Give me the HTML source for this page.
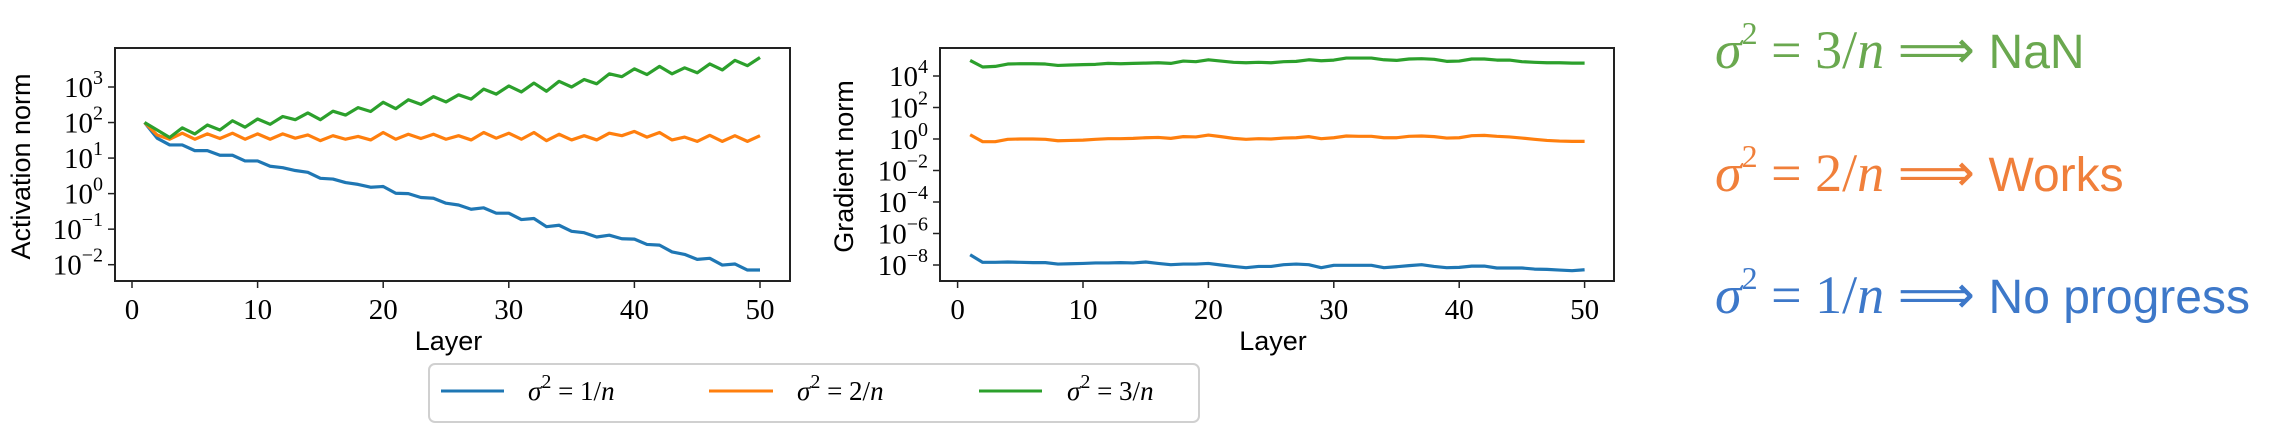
<!DOCTYPE html>
<html><head><meta charset="utf-8"><style>
html,body{margin:0;padding:0;background:#fff;}
svg{display:block;}
.tick{font-family:"Liberation Serif",serif;font-size:29px;fill:#000;}
.sup{font-size:20px;}
.ttl{font-family:"Liberation Sans",sans-serif;font-size:27px;fill:#000;}
.leg{font-family:"Liberation Serif",serif;font-size:27px;fill:#000;}
.big{font-family:"Liberation Serif",serif;font-size:54px;}
.word{font-family:"Liberation Sans",sans-serif;font-size:48px;}
</style></head><body>
<svg id="fig" width="2292" height="434" viewBox="0 0 2292 434" xmlns="http://www.w3.org/2000/svg">
  <g id="left"></g>
  <g id="right"></g>
  <g>
    <rect x="429" y="364" width="770" height="58" rx="6" fill="#fff" stroke="#d0d0d0" stroke-width="2"/>
    <line x1="441" y1="391" x2="504" y2="391" stroke="#1f77b4" stroke-width="3"/>
    <text class="leg" x="528" y="400"><tspan font-style="italic">σ</tspan><tspan class="sup" dy="-12">2</tspan><tspan dy="12"> = 1/</tspan><tspan font-style="italic">n</tspan></text>
    <line x1="709" y1="391" x2="773" y2="391" stroke="#ff7f0e" stroke-width="3"/>
    <text class="leg" x="797" y="400"><tspan font-style="italic">σ</tspan><tspan class="sup" dy="-12">2</tspan><tspan dy="12"> = 2/</tspan><tspan font-style="italic">n</tspan></text>
    <line x1="979" y1="391" x2="1042" y2="391" stroke="#2ca02c" stroke-width="3"/>
    <text class="leg" x="1067" y="400"><tspan font-style="italic">σ</tspan><tspan class="sup" dy="-12">2</tspan><tspan dy="12"> = 3/</tspan><tspan font-style="italic">n</tspan></text>
  </g>
  <g>
    <text x="1715" y="68" fill="#6aa84f"><tspan class="big" font-style="italic">σ</tspan><tspan class="big" style="font-size:32px" dy="-24">2</tspan><tspan class="big" dy="24"> = 3/</tspan><tspan class="big" font-style="italic">n</tspan><tspan class="big"> ⟹ </tspan><tspan class="word">NaN</tspan></text>
    <text x="1715" y="191" fill="#f07f3a"><tspan class="big" font-style="italic">σ</tspan><tspan class="big" style="font-size:32px" dy="-24">2</tspan><tspan class="big" dy="24"> = 2/</tspan><tspan class="big" font-style="italic">n</tspan><tspan class="big"> ⟹ </tspan><tspan class="word">Works</tspan></text>
    <text x="1715" y="313" fill="#3d78c9"><tspan class="big" font-style="italic">σ</tspan><tspan class="big" style="font-size:32px" dy="-24">2</tspan><tspan class="big" dy="24"> = 1/</tspan><tspan class="big" font-style="italic">n</tspan><tspan class="big"> ⟹ </tspan><tspan class="word">No progress</tspan></text>
  </g>
</svg>
<script>
// log10 values per layer (1..50)
const layers = Array.from({length:50},(_, i)=>i+1);
const actBlueLog = [2.0,1.56,1.37,1.37,1.21,1.21,1.08,1.08,0.92,0.92,0.77,0.73,0.65,0.60,0.43,0.41,0.31,0.26,0.18,0.20,0.01,0.0,-0.11,-0.13,-0.27,-0.32,-0.44,-0.40,-0.55,-0.55,-0.73,-0.70,-0.93,-0.89,-1.06,-1.10,-1.22,-1.17,-1.27,-1.28,-1.43,-1.45,-1.64,-1.71,-1.85,-1.82,-2.01,-1.98,-2.15,-2.15];
const actOrangeLog = [2.0,1.65,1.53,1.70,1.53,1.68,1.55,1.70,1.53,1.68,1.53,1.68,1.56,1.65,1.49,1.63,1.53,1.61,1.51,1.72,1.53,1.67,1.55,1.67,1.53,1.63,1.51,1.72,1.56,1.70,1.53,1.72,1.49,1.67,1.51,1.63,1.51,1.70,1.63,1.75,1.59,1.72,1.51,1.59,1.47,1.64,1.47,1.63,1.47,1.63];
const actGreenLog = [2.0,1.79,1.58,1.85,1.68,1.93,1.79,2.05,1.87,2.10,1.95,2.17,2.08,2.27,2.08,2.32,2.21,2.42,2.31,2.57,2.39,2.64,2.51,2.73,2.58,2.78,2.66,2.94,2.80,3.03,2.86,3.11,2.88,3.16,3.00,3.21,3.09,3.37,3.29,3.51,3.35,3.58,3.37,3.54,3.40,3.65,3.48,3.75,3.60,3.83];
const gradBlueLog = [-7.35,-7.83,-7.83,-7.81,-7.83,-7.85,-7.85,-7.94,-7.92,-7.90,-7.87,-7.87,-7.85,-7.87,-7.81,-7.90,-7.98,-7.94,-7.94,-7.90,-8.00,-8.09,-8.17,-8.09,-8.09,-7.98,-7.94,-7.98,-8.17,-8.02,-8.02,-8.02,-8.02,-8.17,-8.11,-8.04,-7.98,-8.09,-8.17,-8.15,-8.07,-8.07,-8.19,-8.19,-8.19,-8.26,-8.28,-8.32,-8.36,-8.30];
const gradOrangeLog = [0.27,-0.17,-0.17,-0.02,0.0,0.0,-0.02,-0.11,-0.09,-0.07,-0.02,0.02,0.02,0.04,0.08,0.10,0.04,0.15,0.13,0.25,0.15,0.04,-0.02,0.02,0.0,0.06,0.08,0.15,0.02,0.08,0.19,0.17,0.17,0.08,0.08,0.17,0.19,0.15,0.06,0.08,0.21,0.23,0.17,0.13,0.06,-0.02,-0.09,-0.13,-0.15,-0.15];
const gradGreenLog = [4.99,4.57,4.61,4.76,4.78,4.78,4.76,4.67,4.70,4.72,4.74,4.80,4.78,4.80,4.82,4.84,4.80,4.95,4.91,5.03,4.95,4.87,4.84,4.87,4.84,4.91,4.93,5.03,4.97,5.01,5.14,5.14,5.14,5.03,4.99,5.08,5.10,5.06,4.93,4.95,5.08,5.08,5.01,5.01,4.91,4.87,4.84,4.84,4.82,4.82];
const xTicks = [0,10,20,30,40,50];
const actYTicks = [-2,-1,0,1,2,3];
const actYTickLabels = ["−2","−1","0","1","2","3"];
const gradYTicks = [-8,-6,-4,-2,0,2,4];
const gradYTickLabels = ["−8","−6","−4","−2","0","2","4"];
const colors = ["#1f77b4","#ff7f0e","#2ca02c"];
const NS = "http://www.w3.org/2000/svg";
function mk(tag, attrs, parent){
  const e = document.createElementNS(NS, tag);
  for (const k in attrs) e.setAttribute(k, attrs[k]);
  parent.appendChild(e);
  return e;
}
function drawChart(g, cfg){
  const xs = v => cfg.x0 + (v - 0) * (cfg.x50 - cfg.x0) / 50;
  const ys = lg => cfg.yA + (lg - cfg.lA) * (cfg.yB - cfg.yA) / (cfg.lB - cfg.lA);
  cfg.series.forEach((s, si) => {
    const d = s.map((v, i) => (i ? "L" : "M") + xs(layers[i]).toFixed(2) + " " + ys(v).toFixed(2)).join(" ");
    const p = mk("path", {d: d, fill: "none", stroke: colors[si], "stroke-width": 3.2, "stroke-linejoin": "round"}, g);
    
    
  });
  const fr = mk("rect", {x: cfg.left, y: cfg.top, width: cfg.right - cfg.left, height: cfg.bottom - cfg.top, fill: "none", stroke: "#222", "stroke-width": 2}, g);
  
  
  xTicks.forEach(t => {
    const x = xs(t);
    const tl = mk("line", {x1: x, y1: cfg.bottom, x2: x, y2: cfg.bottom + 7, stroke: "#222", "stroke-width": 1.5}, g);
    
    
    const tx = mk("text", {x: x, y: cfg.bottom + 38, "text-anchor": "middle", class: "tick"}, g);
    tx.textContent = String(t);
    
    
  });
  cfg.yTicks.forEach((t, i) => {
    const y = ys(t);
    const tl = mk("line", {x1: cfg.left - 7, y1: y, x2: cfg.left, y2: y, stroke: "#222", "stroke-width": 1.5}, g);
    
    
    const tx = mk("text", {x: cfg.left - 12, y: y + 10, "text-anchor": "end", class: "tick"}, g);
    
    
    const a = mk("tspan", {}, tx); a.textContent = "10";
    const b = mk("tspan", {class: "sup", dy: -13}, tx); b.textContent = cfg.yLabels[i];
  });
  const xt = mk("text", {x: (cfg.left + cfg.right) / 2 - 4, y: 350, "text-anchor": "middle", class: "ttl"}, g);
  xt.textContent = "Layer";
  
  
  const yt = mk("text", {x: 0, y: 0, "text-anchor": "middle", class: "ttl", transform: "translate(" + cfg.ytX + "," + ((cfg.top + cfg.bottom) / 2 + 2) + ") rotate(-90)"}, g);
  yt.textContent = cfg.yTitle;
  
  
}
drawChart(document.getElementById("left"), {
  left: 115, right: 790, top: 48, bottom: 281, x0: 132, x50: 760,
  yA: 264.7, lA: -2, yB: 87, lB: 3,
  series: [actBlueLog, actOrangeLog, actGreenLog],
  names: ["series-sigma-1n", "series-sigma-2n", "series-sigma-3n"],
  yTicks: actYTicks, yLabels: actYTickLabels, yTitle: "Activation norm", ytX: 30
});
drawChart(document.getElementById("right"), {
  left: 940, right: 1614, top: 48, bottom: 281, x0: 957.6, x50: 1584.6,
  yA: 265, lA: -8, yB: 76, lB: 4,
  series: [gradBlueLog, gradOrangeLog, gradGreenLog],
  names: ["series-sigma-1n", "series-sigma-2n", "series-sigma-3n"],
  yTicks: gradYTicks, yLabels: gradYTickLabels, yTitle: "Gradient norm", ytX: 853
});
</script>
</body></html>
